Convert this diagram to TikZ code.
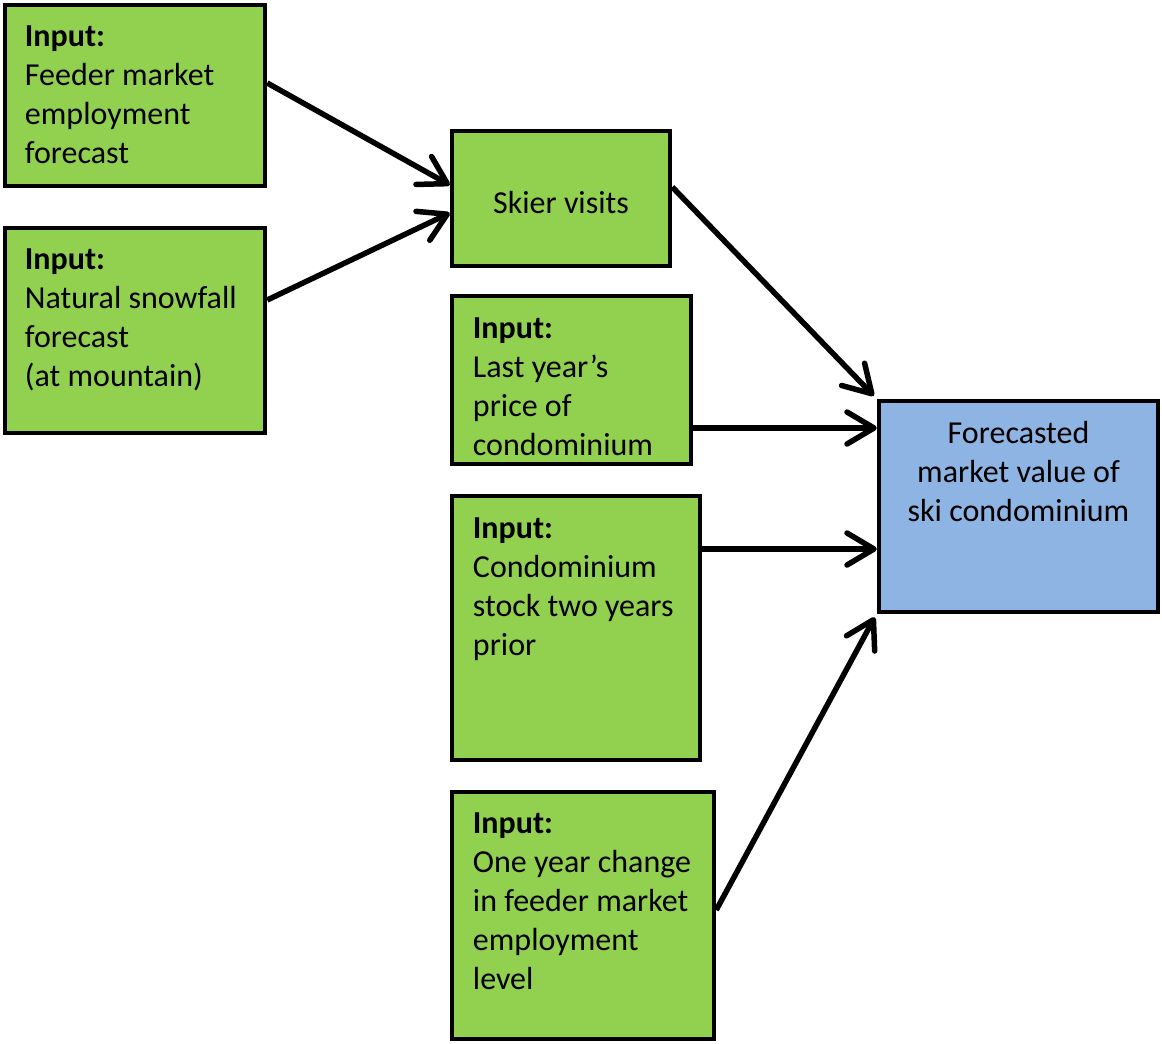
\documentclass[tikz,border=0pt]{standalone}
\usepackage{fontspec}
\setmainfont{Carlito}
\usetikzlibrary{arrows.meta}
\definecolor{boxgreen}{RGB}{146,208,80}
\definecolor{boxblue}{RGB}{141,180,226}
\begin{document}
\begin{tikzpicture}[x=1pt,y=-1pt,
  box/.style={draw=black, line width=4.5pt, fill=boxgreen, rectangle, inner sep=0pt},
  outbox/.style={box, fill=boxblue},
  txt/.style={inner sep=0pt, align=left, anchor=north west, font=\fontsize{32}{39}\selectfont},
  conn/.style={line width=5.5pt, -{Straight Barb[length=27pt,width=32pt,line cap=round,line join=round]}}]
\useasboundingbox (0,0) rectangle (1162,1044);
% boxes
\node[box, minimum width=260pt, minimum height=181pt] (A) at (135,95.5) {};
\node[box, minimum width=260pt, minimum height=205pt] (B) at (135,330.5) {};
\node[box, minimum width=218pt, minimum height=135pt] (S) at (561,198.5) {};
\node[box, minimum width=239pt, minimum height=168pt] (L) at (571.5,380) {};
\node[box, minimum width=248pt, minimum height=264pt] (C) at (576,628) {};
\node[box, minimum width=262pt, minimum height=247pt] (O) at (583,915.5) {};
\node[outbox, minimum width=279pt, minimum height=211pt] (F) at (1018.5,506.5) {};
% texts
\node[txt] (At) at ([xshift=22pt,yshift=-16.7pt]A.north west) {\strut\textbf{Input:}\\Feeder market\\employment\\forecast};
\node[txt] (Bt) at ([xshift=22pt,yshift=-16.7pt]B.north west) {\strut\textbf{Input:}\\Natural snowfall\\forecast\\(at mountain)};
\node[txt] (Lt) at ([xshift=23pt,yshift=-17.7pt]L.north west) {\strut\textbf{Input:}\\Last year’s\\price of\\condominium};
\node[txt] (Ct) at ([xshift=23pt,yshift=-17.2pt]C.north west) {\strut\textbf{Input:}\\Condominium\\stock two years\\prior};
\node[txt] (Ot) at ([xshift=23pt,yshift=-16.7pt]O.north west) {\strut\textbf{Input:}\\One year change\\in feeder market\\employment\\level};
\node[txt, anchor=base] (St) at ([yshift=-14.5pt]S.center) {Skier visits};
\node[txt, align=center, anchor=north] (Ft) at ([yshift=-17.7pt]F.north) {\strut Forecasted\\market value of\\ski condominium};
% connectors
\draw[conn] ([yshift=12.5pt]A.east) -- ([yshift=13.5pt]S.west);
\draw[conn] ([yshift=30.5pt]B.east) -- ([yshift=-14.5pt]S.west);
\draw[conn] ([yshift=11.5pt]S.east) -- ([xshift=-3pt,yshift=3pt]F.north west);
\draw[conn] ([yshift=-48pt]L.east) -- ([yshift=78.5pt]F.west);
\draw[conn] ([yshift=79pt]C.east) -- ([yshift=-42.5pt]F.west);
\draw[conn] ([yshift=5.5pt]O.east) -- ([xshift=-2pt,yshift=-3pt]F.south west);
\end{tikzpicture}
\end{document}
